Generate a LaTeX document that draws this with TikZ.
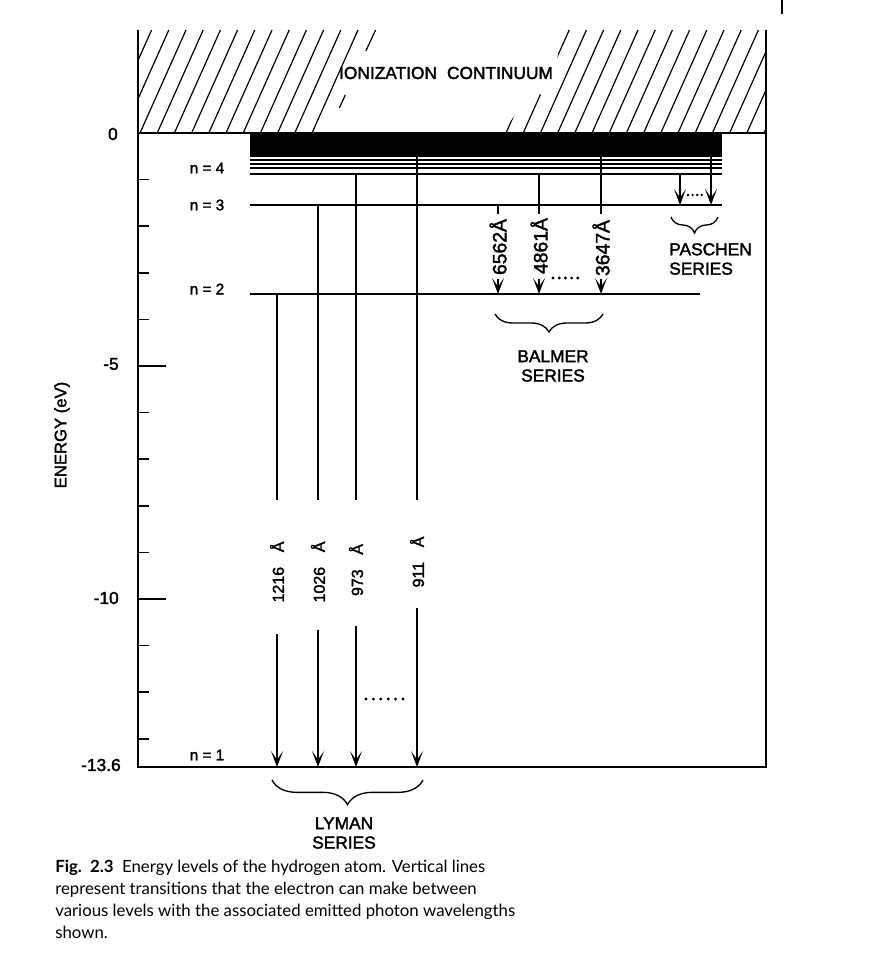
\documentclass[tikz,border=0pt]{standalone}
\usepackage{fontspec}
\setmainfont{Liberation Sans}[FakeBold=2]
\newfontfamily\capfont{Lato}
\usetikzlibrary{arrows.meta,decorations.pathreplacing}
\tikzset{
  frameline/.style={line width=1.6pt},
  levelline/.style={line width=1.2pt},
  transline/.style={line width=1.1pt},
  hatchline/.style={line width=0.9pt},
  arrowtip/.style={-{Stealth[length=12pt,width=9pt,inset=6.5pt]}},
  tickline/.style={line width=1.1pt},
  lbl/.style={font=\fontsize{11.5}{13}\selectfont, inner sep=0pt},
  axlbl/.style={font=\fontsize{13}{15}\selectfont, inner sep=0pt, anchor=east},
  serieslbl/.style={font=\fontsize{13}{14.5}\selectfont, inner sep=0pt, align=center},
  wavelbl/.style={font=\fontsize{12}{14}\selectfont, rotate=90, inner sep=0pt},
  balmerlbl/.style={font=\fontsize{14.5}{16}\selectfont, rotate=90, inner sep=0pt},
  bracedec/.style={decorate, decoration={brace, mirror, amplitude=#1}, line width=1pt},
  caplbl/.style={font=\capfont\fontsize{12.6}{15}\selectfont, inner sep=0pt, anchor=base west},
  dotmark/.style={fill=black},
}
\begin{document}
\begin{tikzpicture}[x=0.75pt,y=-0.75pt]
\useasboundingbox (0,0) rectangle (884,980);

% ---------- ionization continuum hatching ----------
\begin{scope}
  \clip (138,30) rectangle (766,133);
  \foreach \k in {-3,...,10} \draw[hatchline] ({140+17.2*\k},133) -- ++(46,-103);
\end{scope}
\draw[hatchline] (375.6,30) -- (365.8,51);
\draw[hatchline] (345.3,95) -- (339.3,108);
\begin{scope}
  \clip (502,133) -- (526,100) -- (557,88) -- (557,60) -- (562,30) -- (766,30) -- (766,133) -- cycle;
  \foreach \k in {-4,...,16} \draw[hatchline] ({506+17.2*\k},133) -- ++(46,-103);
\end{scope}
\node[font=\fontsize{13}{15}\selectfont, inner sep=0pt] (ion) at (446,73) {IONIZATION\hspace{0.3em} CONTINUUM};

% ---------- frame ----------
\draw[frameline] (138,30) -- (138,767) -- (766,767) -- (766,30);
\draw[frameline] (138,133) -- (766,133);
\draw[line width=1.2pt] (782,0) -- (782,14);

% ---------- axis ticks ----------
\foreach \e in {1,2,3,4,6,7,8,9,11,12,13} \draw[tickline] (138,{133+46.6*\e}) -- ++(11,0);
\foreach \e in {5,10} \draw[tickline] (138,{133+46.6*\e}) -- ++(28,0);
\node[axlbl] (t0) at (118,134) {0};
\node[axlbl] (t5) at (119,364) {-5};
\node[axlbl] (t10) at (119,598) {-10};
\node[axlbl] (t136) at (121,765) {-13.6};
\node[font=\fontsize{12.5}{14}\selectfont, rotate=90, inner sep=0pt] (elab) at (62,435) {ENERGY (eV)};

% ---------- levels ----------
\fill (250,133) rectangle (722,157);
\foreach \y in {160,164,168} \draw[levelline] (250,\y) -- (722,\y);
\draw[levelline] (250,174) -- (722,174);
\draw[levelline] (250,205) -- (722,205);
\draw[levelline] (250,294) -- (700,294);
\node[lbl] (n4) at (207,168) {n = 4};
\node[lbl] (n3) at (207,205) {n = 3};
\node[lbl] (n2) at (207,289) {n = 2};
\node[lbl] (n1) at (207,755) {n = 1};

% ---------- Lyman series ----------
\foreach \n/\x/\ys/\yl/\yc/\txt in {a/277/294/634/572/1216, b/318/205/630/572/1026, c/356/174/626/570/973, d/417/133/608/562/911}{
  \coordinate (ly\n s) at (\x,\ys);
  \coordinate (ly\n m) at (\x,500);
  \coordinate (ly\n l) at (\x,\yl);
  \coordinate (ly\n e) at (\x,767);
  \draw[transline] (ly\n s) -- (ly\n m);
  \draw[transline, arrowtip] (ly\n l) -- (ly\n e);
  \node[wavelbl] (ly\n t) at (\x,\yc) {\txt\hspace{11pt}Å};
}
\foreach \i in {0,...,5} \fill[dotmark] ({366+7.4*\i},699) circle (1.2pt);
\draw[bracedec=18.5pt] (272,780) -- (423,780);
\node[serieslbl] (lyman) at (344,833) {LYMAN\\SERIES};

% ---------- Balmer series ----------
\foreach \n/\x/\ys/\yc/\txt in {a/498/205/247/6562, b/539/174/246/4861, c/601/133/248/3647}{
  \coordinate (ba\n s) at (\x,\ys);
  \coordinate (ba\n m) at (\x,214);
  \coordinate (ba\n l) at (\x,279);
  \coordinate (ba\n e) at (\x,294);
  \draw[transline] (ba\n s) -- (ba\n m);
  \draw[transline, arrowtip] (ba\n l) -- (ba\n e);
  \node[balmerlbl] (ba\n t) at (\x,\yc) {\txt Å};
}
\foreach \i in {0,...,4} \fill[dotmark] ({553+6.2*\i},278) circle (1.2pt);
\draw[bracedec=13.5pt] (495,314) -- (603,314);
\node[serieslbl] (balmer) at (553,366) {BALMER\\SERIES};

% ---------- Paschen series ----------
\coordinate (paas) at (680,174);
\coordinate (paae) at (680,205);
\coordinate (pabs) at (711,133);
\coordinate (pabe) at (711,205);
\draw[transline, arrowtip] (paas) -- (paae);
\draw[transline, arrowtip] (pabs) -- (pabe);
\foreach \i in {0,...,3} \fill[dotmark] ({688+4.6*\i},195) circle (1pt);
\draw[bracedec=12pt] (671,217) -- (718,217);
\node[serieslbl, align=left, anchor=west] (paschen) at (669,259) {PASCHEN\\SERIES};

% ---------- caption ----------
\node[caplbl] (cap1) at (55,872) {\textbf{Fig.\ \ 2.3}\ \ Energy levels of the hydrogen atom. Vertical lines};
\node[caplbl] (cap2) at (55,894) {represent transitions that the electron can make between};
\node[caplbl] (cap3) at (55,916) {various levels with the associated emitted photon wavelengths};
\node[caplbl] (cap4) at (55,938) {shown.};
\end{tikzpicture}
\end{document}
